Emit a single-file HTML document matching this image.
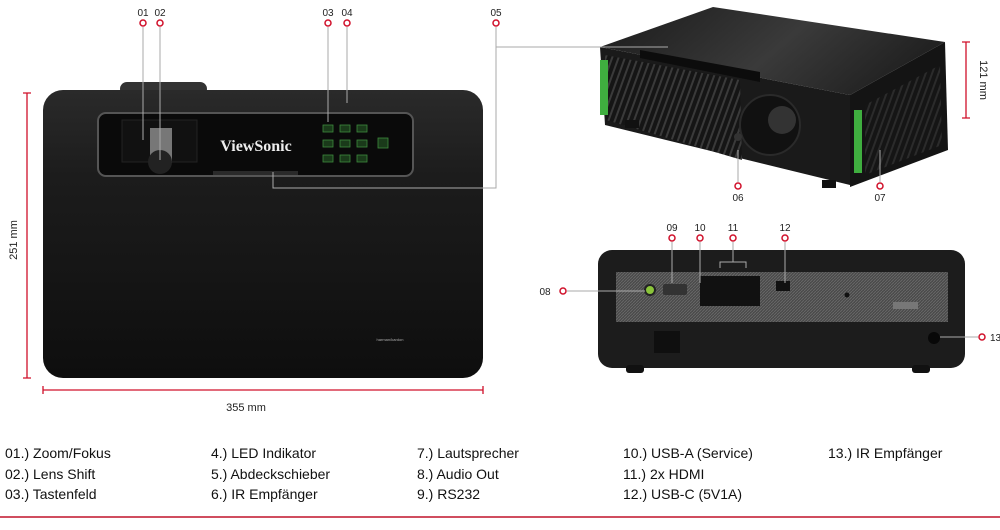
<!DOCTYPE html>
<html><head><meta charset="utf-8"><style>
html,body{margin:0;padding:0;background:#fff;}
body{width:1000px;height:530px;position:relative;overflow:hidden;font-family:"Liberation Sans",sans-serif;}
.lg{position:absolute;font-size:14px;color:#111;line-height:20.5px;}
</style></head><body>
<svg width="1000" height="530" style="position:absolute;left:0;top:0" font-family="Liberation Sans, sans-serif">
<defs>
<linearGradient id="tb" x1="0" y1="0" x2="0" y2="1"><stop offset="0" stop-color="#2a2a2a"/><stop offset="0.3" stop-color="#1c1c1c"/><stop offset="1" stop-color="#0e0e0e"/></linearGradient>
<linearGradient id="tp" x1="0" y1="0" x2="1" y2="0.3"><stop offset="0" stop-color="#1a1a1a"/><stop offset="0.6" stop-color="#3a3a3a"/><stop offset="1" stop-color="#222"/></linearGradient>
<pattern id="gr" width="3" height="3" patternUnits="userSpaceOnUse"><rect width="3" height="3" fill="#4a4a4a"/><path d="M0 3L3 0" stroke="#6a6a6a" stroke-width="0.8"/></pattern>
<pattern id="sl" width="6" height="6" patternUnits="userSpaceOnUse" patternTransform="rotate(20)"><rect width="6" height="6" fill="#151515"/><rect width="2" height="6" fill="#3a3a3a"/></pattern>
</defs>
<!-- top view -->
<rect x="120" y="82" width="87" height="14" rx="7" fill="#333"/>
<rect x="43" y="90" width="440" height="288" rx="20" fill="url(#tb)"/>
<rect x="98" y="113" width="315" height="63" rx="8" fill="#0a0a0a" stroke="#555" stroke-width="2"/>
<rect x="122" y="120" width="75" height="42" fill="#111" stroke="#222"/>
<rect x="150" y="128" width="22" height="35" fill="#777"/>
<circle cx="160" cy="162" r="12" fill="#222"/>
<rect x="213" y="171" width="85" height="4" fill="#2a2a2a"/>
<text x="256" y="151" font-family="Liberation Serif, serif" font-weight="bold" font-size="16" fill="#eee" text-anchor="middle">ViewSonic</text>
<g fill="#1a3a1a" stroke="#3c8a3c" stroke-width="0.8">
<rect x="323" y="125" width="10" height="7"/><rect x="340" y="125" width="10" height="7"/><rect x="357" y="125" width="10" height="7"/>
<rect x="323" y="140" width="10" height="7"/><rect x="340" y="140" width="10" height="7"/><rect x="357" y="140" width="10" height="7"/><rect x="378" y="138" width="10" height="10"/>
<rect x="323" y="155" width="10" height="7"/><rect x="340" y="155" width="10" height="7"/><rect x="357" y="155" width="10" height="7"/>
</g>
<text x="390" y="341" font-size="4" fill="#aaa" text-anchor="middle">harman/kardon</text>
<!-- 3/4 projector -->
<polygon points="600,47 713,7 945,42 850,95" fill="url(#tp)"/>
<polygon points="600,47 850,95 850,185 605,125" fill="#1a1a1a"/>
<polygon points="605,55 740,80 742,160 606,120" fill="url(#sl)"/>
<polygon points="850,95 945,42 948,150 850,187" fill="#141414"/>
<polygon points="865,105 940,65 942,145 865,175" fill="url(#sl)" opacity="0.6"/>
<polygon points="640,50 760,72 760,82 640,58" fill="#0c0c0c"/>
<rect x="600" y="60" width="8" height="55" fill="#3fae3f"/>
<rect x="854" y="110" width="8" height="63" fill="#3fae3f"/>
<circle cx="770" cy="125" r="30" fill="#111" stroke="#2a2a2a" stroke-width="2"/>
<circle cx="782" cy="120" r="14" fill="#333"/>
<circle cx="738" cy="137" r="4" fill="#333"/>
<rect x="625" y="120" width="14" height="8" fill="#111"/><rect x="822" y="180" width="14" height="8" fill="#111"/>
<!-- rear -->
<rect x="598" y="250" width="367" height="118" rx="14" fill="#1c1c1c"/>
<rect x="616" y="272" width="332" height="50" fill="url(#gr)"/>
<rect x="700" y="276" width="60" height="30" fill="#111"/>
<circle cx="650" cy="290" r="5" fill="#8ac43a" stroke="#222" stroke-width="2"/>
<rect x="663" y="284" width="24" height="11" rx="2" fill="#333"/>
<rect x="776" y="281" width="14" height="10" fill="#111"/>
<circle cx="847" cy="295" r="2.5" fill="#111"/>
<rect x="893" y="302" width="25" height="7" fill="#777"/>
<rect x="654" y="331" width="26" height="22" fill="#0f0f0f"/>
<circle cx="934" cy="338" r="6" fill="#080808"/>
<rect x="626" y="365" width="18" height="8" rx="3" fill="#111"/><rect x="912" y="365" width="18" height="8" rx="3" fill="#111"/>
<!-- connectors -->
<g stroke="#aaa" stroke-width="1" fill="none">
<path d="M143 27V140M160 27V160M328 27V122M347 27V103M496 27V188H273V172M496 47H668"/>
<path d="M738 150V182M880 150V182"/>
<path d="M672 242V283M700 242V283M733 242V262M720 268V262H746V268M785 242V283M567 291H645M940 337H978"/>
</g>
<g fill="#fff" stroke="#d0102a" stroke-width="1.5">
<circle cx="143" cy="23" r="3"/><circle cx="160" cy="23" r="3"/><circle cx="328" cy="23" r="3"/><circle cx="347" cy="23" r="3"/><circle cx="496" cy="23" r="3"/>
<circle cx="738" cy="186" r="3"/><circle cx="880" cy="186" r="3"/>
<circle cx="672" cy="238" r="3"/><circle cx="700" cy="238" r="3"/><circle cx="733" cy="238" r="3"/><circle cx="785" cy="238" r="3"/><circle cx="563" cy="291" r="3"/><circle cx="982" cy="337" r="3"/>
</g>
<g font-size="10" fill="#222" text-anchor="middle">
<text x="143" y="16">01</text><text x="160" y="16">02</text><text x="328" y="16">03</text><text x="347" y="16">04</text><text x="496" y="16">05</text>
<text x="738" y="201">06</text><text x="880" y="201">07</text>
<text x="672" y="231">09</text><text x="700" y="231">10</text><text x="733" y="231">11</text><text x="785" y="231">12</text>
<text x="545" y="295">08</text><text x="990" y="341" text-anchor="start">13</text>
</g>
<!-- dims -->
<g stroke="#d0102a" stroke-width="1.3">
<path d="M27 93V378M23 93H31M23 378H31M43 386V394M483 386V394M43 390H483"/>
<path d="M966 42V118M962 42H970M962 118H970"/>
</g>
<text x="17" y="240" font-size="11" fill="#222" text-anchor="middle" transform="rotate(-90 17 240)">251 mm</text>
<text x="246" y="411" font-size="11" fill="#222" text-anchor="middle">355 mm</text>
<text x="980" y="80" font-size="11" fill="#222" text-anchor="middle" transform="rotate(90 980 80)">121 mm</text>
<path d="M0 517H1000" stroke="#c0142a" stroke-width="1.5"/>
</svg>
<div class="lg" style="left:5px;top:443px">01.) Zoom/Fokus<br>02.) Lens Shift<br>03.) Tastenfeld</div>
<div class="lg" style="left:211px;top:443px">4.) LED Indikator<br>5.) Abdeckschieber<br>6.) IR Empfänger</div>
<div class="lg" style="left:417px;top:443px">7.) Lautsprecher<br>8.) Audio Out<br>9.) RS232</div>
<div class="lg" style="left:623px;top:443px">10.) USB-A (Service)<br>11.) 2x HDMI<br>12.) USB-C (5V1A)</div>
<div class="lg" style="left:828px;top:443px">13.) IR Empfänger</div>
</body></html>
